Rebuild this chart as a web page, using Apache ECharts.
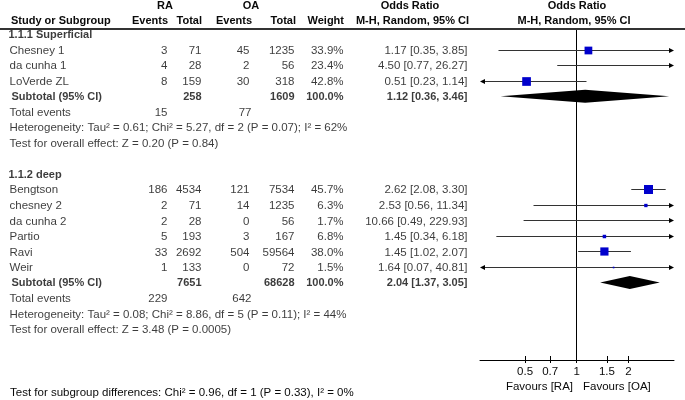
<!DOCTYPE html>
<html><head><meta charset="utf-8">
<script src="https://cdn.jsdelivr.net/npm/echarts@6/dist/echarts.min.js"></script>
<style>html,body{margin:0;padding:0;background:#fff}#c{width:685px;height:400px}</style>
</head><body><div id="c"></div>
<script>
// ---------- data ----------
const studies   = ['Chesney 1','da cunha 1','LoVerde ZL','Bengtson','chesney 2','da cunha 2','Partio','Ravi','Weir'];
const studyRows = [1,2,3,10,11,12,13,14,15];
const raEvents  = [3,4,8,186,2,2,5,33,1];
const raTotal   = [71,28,159,4534,71,28,193,2692,133];
const oaEvents  = [45,2,30,121,14,0,3,504,0];
const oaTotal   = [1235,56,318,7534,1235,56,167,59564,72];
const weights   = [33.9,23.4,42.8,45.7,6.3,1.7,6.8,38.0,1.5];
const orEst     = [1.17,4.50,0.51,2.62,2.53,10.66,1.45,1.45,1.64];
const orLow     = [0.35,0.77,0.23,2.08,0.56,0.49,0.34,1.02,0.07];
const orHigh    = [3.85,26.27,1.14,3.30,11.34,229.93,6.18,2.07,40.81];

const groups      = ['1.1.1 Superficial','1.1.2 deep'];
const groupRows   = [0,9];
const subRows     = [4,16];
const subRaTotal  = [258,7651];
const subOaTotal  = [1609,68628];
const subWeight   = [100.0,100.0];
const subEst      = [1.12,2.04];
const subLow      = [0.36,1.37];
const subHigh     = [3.46,3.05];
const totRaEvents = [15,229];
const totOaEvents = [77,642];
const heterogeneity = ['Heterogeneity: Tau\u00b2 = 0.61; Chi\u00b2 = 5.27, df = 2 (P = 0.07); I\u00b2 = 62%',
                       'Heterogeneity: Tau\u00b2 = 0.08; Chi\u00b2 = 8.86, df = 5 (P = 0.11); I\u00b2 = 44%'];
const overall = ['Test for overall effect: Z = 0.20 (P = 0.84)',
                 'Test for overall effect: Z = 3.48 (P = 0.0005)'];
const subgroupTest = 'Test for subgroup differences: Chi\u00b2 = 0.96, df = 1 (P = 0.33), I\u00b2 = 0%';
const tickValues = [0.5,0.7,1,1.5,2];
const axisRange  = [0.273,3.69];
const favours    = ['Favours [RA]','Favours [OA]'];

// ---------- layout / style ----------
const FONT = '"Liberation Sans", Arial, sans-serif';
const FS = 11.5, FSB = 11;
const TXT = '#0a0a0a';
const COL = {name:10, sub:12, raE:168, raT:202, oaE:250, oaT:295, w:344, or:468};

const fmtOR = (e,l,h) => e.toFixed(2)+' ['+l.toFixed(2)+', '+h.toFixed(2)+']';
const cells = [];
function cell(text, x, row, align, bold){
  cells.push({name:String(text), value:[x,row],
    label:{align:align, fontWeight:bold?'bold':'normal', fontSize:bold?FSB:FS}});
}
groups.forEach((g,k)=>{
  cell(g, COL.name-1, groupRows[k], 'left', true);
  cell('Subtotal (95% CI)', COL.sub, subRows[k], 'left', true);
  cell(subRaTotal[k], COL.raT, subRows[k], 'right', true);
  cell(subOaTotal[k], COL.oaT, subRows[k], 'right', true);
  cell(subWeight[k].toFixed(1)+'%', COL.w, subRows[k], 'right', true);
  cell(fmtOR(subEst[k],subLow[k],subHigh[k]), COL.or, subRows[k], 'right', true);
  cell('Total events', COL.name, subRows[k]+1, 'left', false);
  cell(totRaEvents[k], COL.raE, subRows[k]+1, 'right', false);
  cell(totOaEvents[k], COL.oaE+2, subRows[k]+1, 'right', false);
  cell(heterogeneity[k], COL.name, subRows[k]+2, 'left', false);
  cell(overall[k], COL.name, subRows[k]+3, 'left', false);
});
studies.forEach((s,i)=>{
  const r = studyRows[i];
  cell(s, COL.name, r, 'left', false);
  cell(raEvents[i], COL.raE, r, 'right', false);
  cell(raTotal[i], COL.raT, r, 'right', false);
  cell(oaEvents[i], COL.oaE, r, 'right', false);
  cell(oaTotal[i], COL.oaT, r, 'right', false);
  cell(weights[i].toFixed(1)+'%', COL.w, r, 'right', false);
  cell(fmtOR(orEst[i],orLow[i],orHigh[i]), COL.or, r, 'right', false);
});

const XMIN = Math.log(axisRange[0]), XMAX = Math.log(axisRange[1]);

function txt(text, x, y, align, bold){
  return {type:'text', x:x, y:y, silent:true,
    style:{text:text, align:align, verticalAlign:'middle', fill:TXT,
           font:(bold?'bold '+FSB:FS)+'px '+FONT}};
}

const chart = echarts.init(document.getElementById('c'), null, {renderer:'canvas'});
const hiddenAxis = {axisLine:{show:false}, axisTick:{show:false}, axisLabel:{show:false}, splitLine:{show:false}};
chart.setOption({
  animation:false,
  backgroundColor:'#fff',
  textStyle:{fontFamily:FONT},
  grid:[
    {left:0, right:0, top:29, bottom:40, outerBoundsMode:'none'},
    {left:480, right:11, top:29, bottom:40, outerBoundsMode:'none'}
  ],
  xAxis:[
    {gridIndex:0, type:'value', min:0, max:685, position:'top',
     axisLine:{show:true, onZero:false, lineStyle:{color:'#333', width:2}},
     axisTick:{show:false}, axisLabel:{show:false}, splitLine:{show:false}},
    {gridIndex:1, type:'value', min:XMIN, max:XMAX, position:'bottom',
     axisLine:{show:true, onZero:false, lineStyle:{color:'#000', width:1}},
     axisTick:{show:true, inside:true, length:4, customValues:tickValues.map(Math.log), lineStyle:{color:'#000'}},
     axisLabel:{show:false}, splitLine:{show:false}},
    {gridIndex:1, type:'value', min:XMIN, max:XMAX, position:'bottom',
     axisLine:{show:false, onZero:false},
     axisTick:{show:true, inside:false, length:3, customValues:tickValues.map(Math.log), lineStyle:{color:'#000'}},
     axisLabel:{show:true, customValues:tickValues.map(Math.log), margin:6, color:TXT, fontSize:FS, fontFamily:FONT,
       formatter:v=>String(Math.round(Math.exp(v)*10)/10)},
     splitLine:{show:false}}
  ],
  yAxis:[
    Object.assign({gridIndex:0, type:'value', inverse:true, min:-0.33, max:21}, hiddenAxis),
    {gridIndex:1, type:'value', inverse:true, min:-0.33, max:21,
     axisLine:{show:true, onZero:true, lineStyle:{color:'#000', width:1}},
     axisTick:{show:false}, axisLabel:{show:false}, splitLine:{show:false}}
  ],
  series:[
    {type:'scatter', xAxisIndex:0, yAxisIndex:0, silent:true, clip:false,
     symbolSize:1, itemStyle:{color:'rgba(0,0,0,0)'},
     label:{show:true, position:[0,0], offset:[0,1.5], verticalAlign:'middle', color:TXT, fontSize:FS, fontFamily:FONT,
            formatter:p=>p.name},
     data:cells},
    {type:'custom', xAxisIndex:1, yAxisIndex:1, silent:true, clip:false,
     encode:{x:[1,2,3], y:0},
     data:studies.map((s,i)=>[studyRows[i], Math.log(orEst[i]), Math.log(orLow[i]), Math.log(orHigh[i]), weights[i]]),
     renderItem:(params, api)=>{
       const row=api.value(0), est=api.value(1), lo=api.value(2), hi=api.value(3), w=api.value(4);
       const pl = api.coord([Math.max(lo,XMIN), row]);
       const pr = api.coord([Math.min(hi,XMAX), row]);
       const y = Math.round(pl[1])+0.5;
       const AH=5, AW=2.5;
       const ch=[];
       const xs = lo<XMIN ? pl[0]+AH : pl[0];
       const xe = hi>XMAX ? pr[0]-AH : pr[0];
       ch.push({type:'line', shape:{x1:xs,y1:y,x2:xe,y2:y}, style:{stroke:'#333', lineWidth:1}});
       if (lo<XMIN) ch.push({type:'polygon', shape:{points:[[pl[0],y],[pl[0]+AH,y-AW],[pl[0]+AH,y+AW]]}, style:{fill:'#000'}});
       if (hi>XMAX) ch.push({type:'polygon', shape:{points:[[pr[0],y],[pr[0]-AH,y-AW],[pr[0]-AH,y+AW]]}, style:{fill:'#000'}});
       if (est>=XMIN && est<=XMAX){
         const c = api.coord([est,row]);
         const s = 1.33*Math.sqrt(w);
         ch.push({type:'rect', shape:{x:c[0]-s/2, y:y-s/2, width:s, height:s}, style:{fill:'#0000cc'}});
       }
       return {type:'group', children:ch};
     }},
    {type:'custom', xAxisIndex:1, yAxisIndex:1, silent:true, clip:false,
     encode:{x:[1,2,3], y:0},
     data:subEst.map((e,k)=>[subRows[k], Math.log(e), Math.log(subLow[k]), Math.log(subHigh[k])]),
     renderItem:(params, api)=>{
       const row=api.value(0);
       const c=api.coord([api.value(1),row]), l=api.coord([api.value(2),row]), r=api.coord([api.value(3),row]);
       const h=6.5;
       return {type:'polygon', shape:{points:[[l[0],c[1]],[c[0],c[1]-h],[r[0],c[1]],[c[0],c[1]+h]]}, style:{fill:'#000'}};
     }}
  ],
  graphic:[
    txt('RA',165,6,'center',true),
    txt('OA',251,6,'center',true),
    txt('Odds Ratio',410,6,'center',true),
    txt('Odds Ratio',577,6,'center',true),
    txt('Study or Subgroup',11,21,'left',true),
    txt('Events',168,21,'right',true),
    txt('Total',202,21,'right',true),
    txt('Events',252,21,'right',true),
    txt('Total',296,21,'right',true),
    txt('Weight',344,21,'right',true),
    txt('M-H, Random, 95% CI',469,21,'right',true),
    txt('M-H, Random, 95% CI',574,21,'center',true),
    txt(favours[0],573,387,'right',false),
    txt(favours[1],583,387,'left',false),
    txt(subgroupTest,10,393,'left',false)
  ]
});
</script></body></html>
